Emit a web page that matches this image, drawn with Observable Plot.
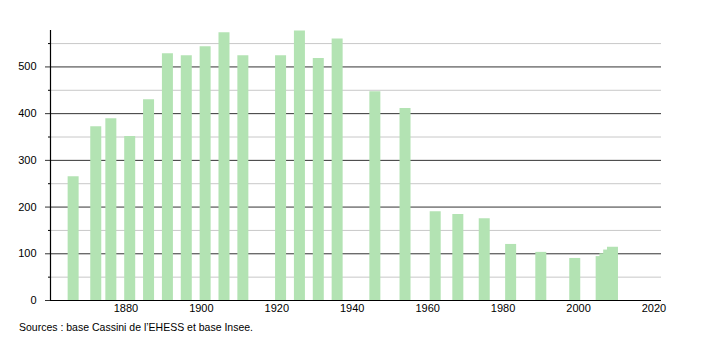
<!DOCTYPE html>
<html>
<head>
<meta charset="utf-8">
<script src="https://cdn.jsdelivr.net/npm/d3@7"></script>
<script src="https://cdn.jsdelivr.net/npm/@observablehq/plot@0.6"></script>
<style>
  body { margin: 0; background: #fff; font-family: "Liberation Sans", Arial, sans-serif; }
  #wrap { position: relative; width: 710px; height: 340px; }
  #caption { position: absolute; left: 19px; top: 321px; font-size: 10.5px; color: #000; }
</style>
</head>
<body>
<div id="wrap"><div id="chart"></div><div id="caption">Sources : base Cassini de l’EHESS et base Insee.</div></div>
<script>
const years = [1866,1872,1876,1881,1886,1891,1896,1901,1906,1911,1921,1926,1931,1936,1946,1954,1962,1968,1975,1982,1990,1999,2006,2007,2008,2009];
const population = [265,372,389,351,430,528,524,543,573,524,524,577,518,560,447,411,190,184,175,120,103,90,94,100,108,114];
const majorTicks = [0,100,200,300,400,500];
const minorTicks = [50,150,250,350,450,550];
const xTicks = [1880,1900,1920,1940,1960,1980,2000,2020];

const data = years.map((y, i) => ({year: y, pop: population[i]}));

const chart = Plot.plot({
  width: 710,
  height: 318,
  marginLeft: 50,
  marginRight: 49,
  marginTop: 30,
  marginBottom: 18,
  x: {domain: [1860, 2022], label: null},
  y: {domain: [0, 578], label: null},
  style: {fontFamily: "'Liberation Sans', Arial, sans-serif", fontSize: "11px", color: "#000", background: "#fff"},
  marks: [
    Plot.ruleY(minorTicks, {stroke: "#c8c8c8", strokeWidth: 1}),
    Plot.ruleY(majorTicks.filter(d => d > 0), {stroke: "#333", strokeWidth: 1}),
    Plot.axisY({ticks: minorTicks, tickSize: 2, tickFormat: () => "", stroke: "#000", label: null}),
    Plot.axisY({ticks: majorTicks, tickSize: 5, tickPadding: 9, stroke: "#333", fill: "#000", fontSize: 11, label: null}),
    Plot.ruleX(data, {x: "year", y1: 0, y2: "pop", stroke: "#b3e3b3", strokeWidth: 11}),
    Plot.axisX({ticks: xTicks, tickSize: 0, tickPadding: 4, tickFormat: "d", fill: "#000", fontSize: 11, label: null}),
    Plot.ruleY([0], {stroke: "#000", strokeWidth: 1.2}),
    Plot.ruleX([1860], {stroke: "#000", strokeWidth: 1.2})
  ]
});
document.getElementById("chart").appendChild(chart);
</script>
</body>
</html>
